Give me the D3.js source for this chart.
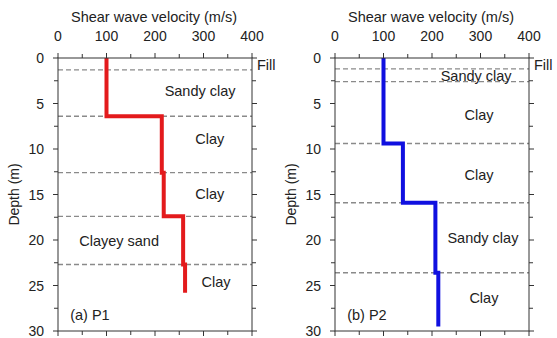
<!DOCTYPE html>
<html>
<head>
<meta charset="utf-8">
<script src="https://cdn.jsdelivr.net/npm/d3@7"></script>
<style>
  body { margin: 0; background: #fff; }
  text { font-family: Arial, "Liberation Sans", sans-serif; fill: #222; }
</style>
</head>
<body>
<svg id="chart" width="557" height="338"></svg>
<script>
// P1 profile: layer tops/bottoms (m) and velocity per layer (m/s)
const p1Depths = [0, 6.4, 12.6, 17.4, 22.7, 25.8];
const p1Vs = [100, 214, 218, 258, 262];
const p1Bounds = [1.3, 6.4, 12.6, 17.4, 22.7];
const p1Labels = ["Sandy clay", "Clay", "Clay", "Clayey sand", "Clay"];
const p1LabelVs = [293, 313, 313, 126, 326];
const p1LabelDepths = [3.6, 8.9, 14.9, 20.1, 24.6];

// P2 profile
const p2Depths = [0, 9.4, 15.9, 23.6, 29.5];
const p2Vs = [100, 140, 207, 213];
const p2Bounds = [1.2, 2.6, 9.4, 15.9, 23.6];
const p2Labels = ["Sandy clay", "Clay", "Clay", "Sandy clay", "Clay"];
const p2LabelVs = [291, 297, 297, 305, 307];
const p2LabelDepths = [2.0, 6.3, 12.9, 19.8, 26.4];

const xTicks = [0, 100, 200, 300, 400];
const yTicks = [0, 5, 10, 15, 20, 25, 30];

const svg = d3.select("#chart");
const plotW = 194, plotH = 273;

const x = d3.scaleLinear().domain([0, 400]).range([0, plotW]);
const y = d3.scaleLinear().domain([0, 30]).range([0, plotH]);

function drawPanel(offsetX, depths, vs, bounds, labels, labelVs, labelDepths, color, tag) {
    const g = svg.append("g").attr("transform", `translate(${offsetX},58)`);

    // layer boundaries
    g.selectAll("line.bound")
        .data(bounds)
        .enter().append("line")
        .attr("x1", 0).attr("x2", plotW)
        .attr("y1", d => y(d)).attr("y2", d => y(d))
        .attr("stroke", "#8a8a8a")
        .attr("stroke-width", 1.4)
        .attr("stroke-dasharray", "5,3");

    // step profile
    const pts = [];
    vs.forEach((v, i) => {
        pts.push([v, depths[i]]);
        pts.push([v, depths[i + 1]]);
    });
    g.append("path")
        .datum(pts)
        .attr("fill", "none")
        .attr("stroke", color)
        .attr("stroke-width", 4)
        .attr("d", d3.line().x(d => x(d[0])).y(d => y(d[1])));

    // frame
    g.append("rect")
        .attr("width", plotW).attr("height", plotH)
        .attr("fill", "none").attr("stroke", "#333").attr("stroke-width", 1);

    // ticks on all four sides
    const minorX = d3.range(0, 401, 50);
    const minorY = d3.range(0, 30.1, 2.5);
    const tk = (v, major) => major ? 5 : 4;
    g.selectAll("line.tx")
        .data(minorX)
        .enter().append("line")
        .attr("x1", d => x(d)).attr("x2", d => x(d))
        .attr("y1", 0).attr("y2", d => -tk(d, d % 100 === 0))
        .attr("stroke", "#333");
    g.selectAll("line.bx")
        .data(minorX)
        .enter().append("line")
        .attr("x1", d => x(d)).attr("x2", d => x(d))
        .attr("y1", plotH).attr("y2", d => plotH + tk(d, d % 100 === 0))
        .attr("stroke", "#333");
    g.selectAll("line.ly")
        .data(minorY)
        .enter().append("line")
        .attr("y1", d => y(d)).attr("y2", d => y(d))
        .attr("x1", 0).attr("x2", d => -tk(d, d % 5 === 0))
        .attr("stroke", "#333");
    g.selectAll("line.ry")
        .data(minorY)
        .enter().append("line")
        .attr("y1", d => y(d)).attr("y2", d => y(d))
        .attr("x1", plotW).attr("x2", d => plotW + tk(d, d % 5 === 0))
        .attr("stroke", "#333");

    // tick labels
    g.selectAll("text.xl")
        .data(xTicks)
        .enter().append("text")
        .attr("x", d => x(d)).attr("y", -17)
        .attr("text-anchor", "middle")
        .attr("font-size", 14)
        .text(d => d);
    g.selectAll("text.yl")
        .data(yTicks)
        .enter().append("text")
        .attr("x", -14).attr("y", d => y(d) + 5)
        .attr("text-anchor", "end")
        .attr("font-size", 14)
        .text(d => d);

    // axis titles
    g.append("text")
        .attr("x", plotW / 2 - 1).attr("y", -36)
        .attr("text-anchor", "middle")
        .attr("font-size", 14.5)
        .text("Shear wave velocity (m/s)");
    g.append("text")
        .attr("transform", `translate(-39.5,${plotH / 2}) rotate(-90)`)
        .attr("text-anchor", "middle")
        .attr("font-size", 14)
        .text("Depth (m)");

    // soil labels
    g.selectAll("text.soil")
        .data(labels)
        .enter().append("text")
        .attr("x", (d, i) => x(labelVs[i]))
        .attr("y", (d, i) => y(labelDepths[i]) + 5)
        .attr("text-anchor", "middle")
        .attr("font-size", 14.5)
        .text(d => d);

    g.append("text")
        .attr("x", plotW + 5).attr("y", y(0.8) + 5)
        .attr("font-size", 14.5)
        .text("Fill");

    g.append("text")
        .attr("x", x(25)).attr("y", y(28.2) + 5)
        .attr("font-size", 14.5)
        .text(tag);
}

drawPanel(58, p1Depths, p1Vs, p1Bounds, p1Labels, p1LabelVs, p1LabelDepths, "#e31a1c", "(a) P1");
drawPanel(335, p2Depths, p2Vs, p2Bounds, p2Labels, p2LabelVs, p2LabelDepths, "#1010e0", "(b) P2");
</script>
</body>
</html>
